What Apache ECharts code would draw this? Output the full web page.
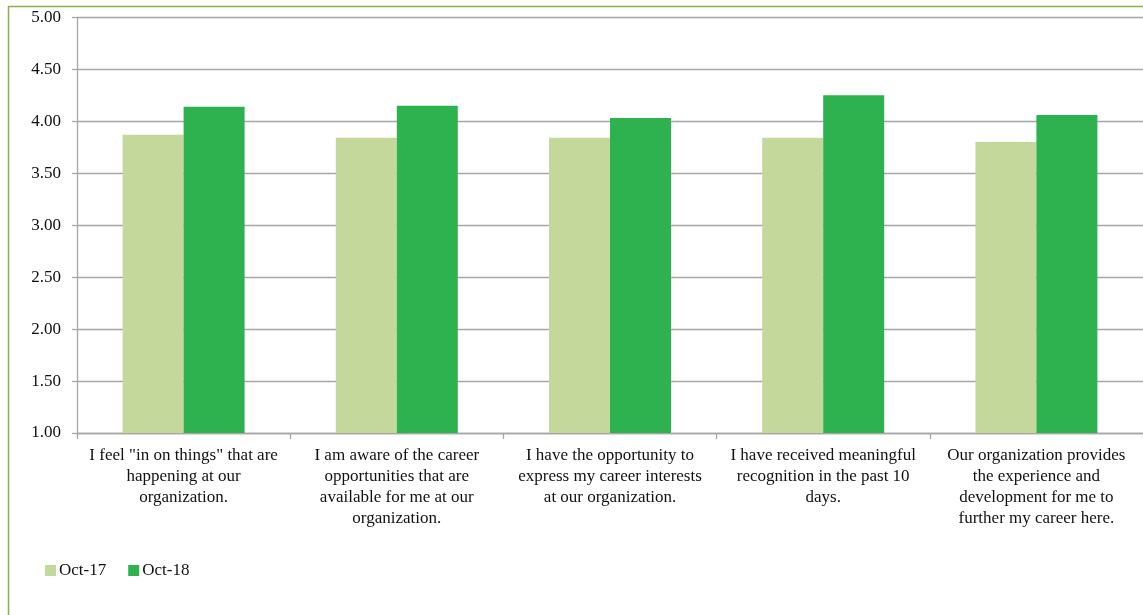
<!DOCTYPE html>
<html><head><meta charset="utf-8">
<script src="https://cdn.jsdelivr.net/npm/echarts@6/dist/echarts.min.js"></script>
<style>html,body{margin:0;padding:0;background:#fff}#c{width:1143px;height:615px}</style>
</head><body><div id="c"></div>
<script>
const categories = [
  'I feel "in on things" that are\nhappening at our\norganization.',
  'I am aware of the career\nopportunities that are\navailable for me at our\norganization.',
  'I have the opportunity to\nexpress my career interests\nat our organization.',
  'I have received meaningful\nrecognition in the past 10\ndays.',
  'Our organization provides\nthe experience and\ndevelopment for me to\nfurther my career here.'
];
const oct17 = [3.87, 3.84, 3.84, 3.84, 3.80];
const oct18 = [4.14, 4.15, 4.03, 4.25, 4.06];
const seriesNames = ['Oct-17', 'Oct-18'];
const FONT = '"Liberation Serif", "DejaVu Serif", serif';
const chart = echarts.init(document.getElementById('c'), null, {renderer: 'canvas'});
chart.setOption({
  animation: false,
  graphic: [{type: 'rect', shape: {x: 8.5, y: 6.5, width: 1160, height: 640}, style: {fill: 'none', stroke: '#8db04a', lineWidth: 1.5}, silent: true, z: -1}],
  legend: {
    left: 40, top: 557, itemWidth: 11, itemHeight: 11, itemGap: 22, icon: 'rect',
    textStyle: {fontFamily: FONT, fontSize: 17, color: '#111', padding: [0, 0, 0, -2]},
    data: seriesNames
  },
  grid: {left: 77, top: 17.3, right: -6, bottom: 182, containLabel: false},
  xAxis: {
    type: 'category', data: categories,
    axisLine: {lineStyle: {color: '#a6a6a6', width: 1.3}},
    axisTick: {show: true, length: 6, lineStyle: {color: '#a6a6a6', width: 1.3}},
    axisLabel: {interval: 0, margin: 12, fontFamily: FONT, fontSize: 17, color: '#111', lineHeight: 21}
  },
  yAxis: {
    type: 'value', min: 1, max: 5, interval: 0.5,
    axisLine: {show: true, lineStyle: {color: '#a6a6a6', width: 1.3}},
    axisTick: {show: true, length: 5, lineStyle: {color: '#a6a6a6', width: 1.3}},
    splitLine: {lineStyle: {color: '#a6a6a6', width: 1.3}},
    axisLabel: {margin: 16, fontFamily: FONT, fontSize: 17, color: '#111', formatter: v => v.toFixed(2)}
  },
  series: [
    {name: seriesNames[0], type: 'bar', data: oct17, barWidth: 61, barGap: '0%', itemStyle: {color: '#c4d89c'}},
    {name: seriesNames[1], type: 'bar', data: oct18, barWidth: 61, barGap: '0%', itemStyle: {color: '#2eb24f'}}
  ]
});
</script></body></html>
